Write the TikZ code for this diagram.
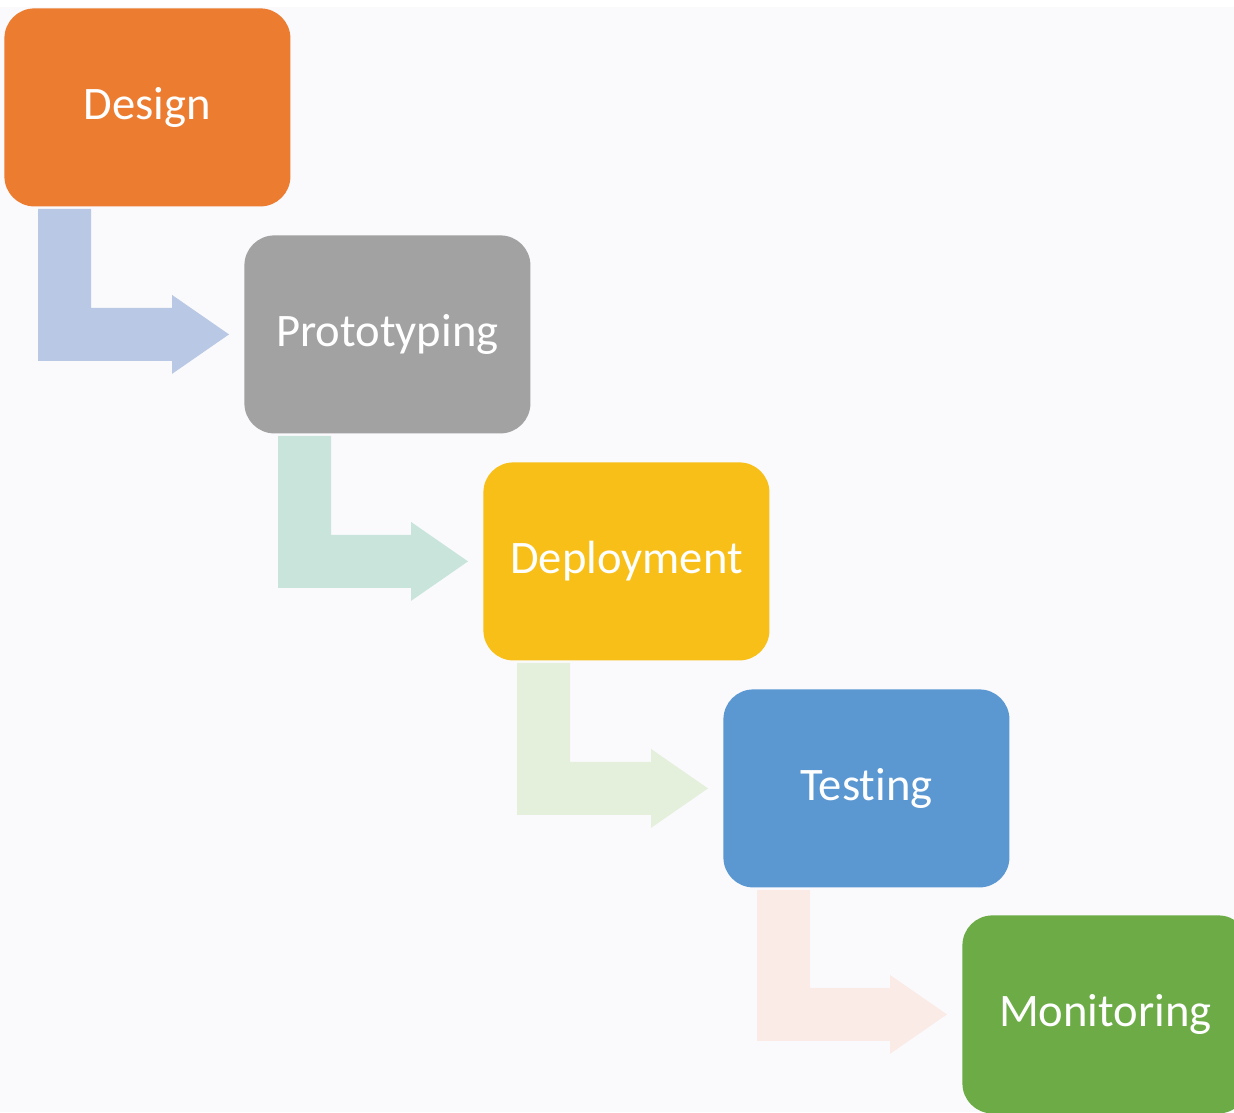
\documentclass[tikz,border=0pt]{standalone}
\usepackage{fontspec}
\setmainfont[Ligatures=NoCommon]{Carlito}
\usetikzlibrary{calc}

\definecolor{bgcol}{HTML}{FAFAFD}
\definecolor{cDesign}{HTML}{EC7C30}
\definecolor{cProto}{HTML}{A2A2A2}
\definecolor{cDeploy}{HTML}{F7BF17}
\definecolor{cTest}{HTML}{5B98D2}
\definecolor{cMonitor}{HTML}{6CAB45}
\definecolor{aOne}{HTML}{B9C8E4}
\definecolor{aTwo}{HTML}{C9E5DB}
\definecolor{aThree}{HTML}{E4F0DB}
\definecolor{aFour}{HTML}{FBEBE6}

% bent block arrow from the bottom of box #1 to the left side of box #2
\newcommand\bentarrow[3]{%
  \fill[#3] ($(#1.south west)+(34,2)$) coordinate (#1-a)
    -- ++(53,0) |- ($(#2.west)+(-72,-26.5)$)
    -- ++(0,-13) -- ($(#2.west)+(-15,0)$)
    -- ($(#2.west)+(-72,39.5)$) -- ++(0,-13)
    -| (#1-a) -- cycle;}

\begin{document}
\begin{tikzpicture}[x=0.5pt,y=-0.5pt,
  stage/.style={rectangle, rounded corners=15pt, minimum width=143pt,
    minimum height=99pt, inner sep=0pt, anchor=north west,
    text=white, font=\fontsize{23.3}{28}\selectfont}]
  \fill[white] (0,0) rectangle (1234,1112);
  \fill[bgcol] (0,7) rectangle (1234,1112);
  \useasboundingbox (0,0) rectangle (1234,1112);

  \node[stage, fill=cDesign]  (design)  at (4,8)     {Design};
  \node[stage, fill=cProto]   (proto)   at (244,235) {Prototyping};
  \node[stage, fill=cDeploy]  (deploy)  at (483,462) {Deployment};
  \node[stage, fill=cTest]    (test)    at (723,689) {Testing};
  \node[stage, fill=cMonitor] (monitor) at (962,915) {Monitoring};

  \bentarrow{design}{proto}{aOne}
  \bentarrow{proto}{deploy}{aTwo}
  \bentarrow{deploy}{test}{aThree}
  \bentarrow{test}{monitor}{aFour}
\end{tikzpicture}
\end{document}
